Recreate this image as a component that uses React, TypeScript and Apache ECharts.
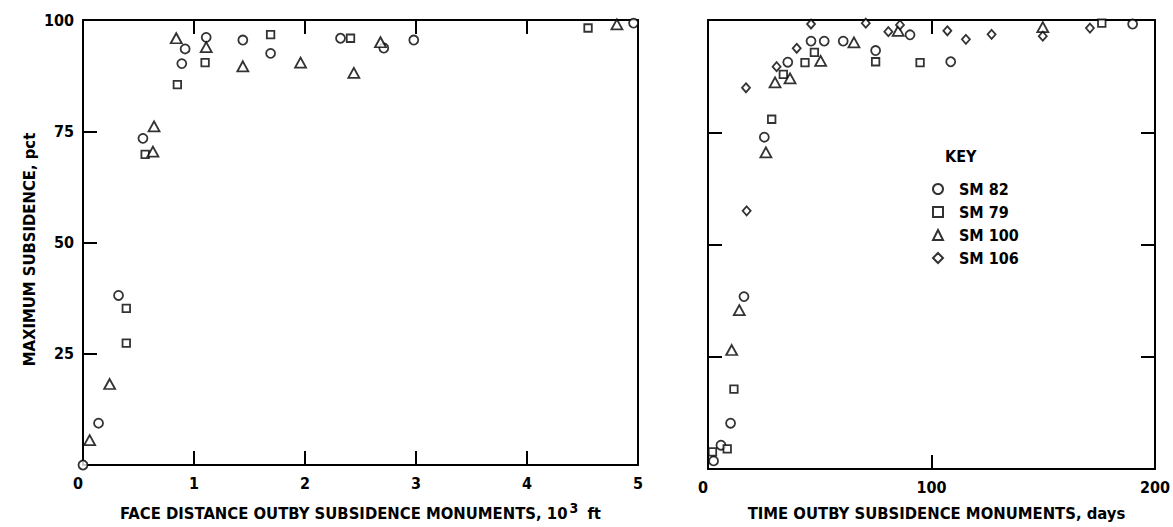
import React, { useEffect, useRef } from "react";
import * as echarts from "echarts";

const FONT = "'DejaVu Sans Condensed','Liberation Sans Narrow','DejaVu Sans',sans-serif";

// Left panel: face distance (10^3 ft) vs maximum subsidence (pct)
const leftSM82: [number, number][] = [
  [0, 0], [0.14, 9.4], [0.32, 38.1], [0.54, 73.4], [0.89, 90.2], [0.92, 93.5],
  [1.11, 96.1], [1.44, 95.5], [1.69, 92.5], [2.32, 95.9], [2.71, 93.7], [2.98, 95.5], [4.96, 99.3],
];
const leftSM79: [number, number][] = [
  [0.39, 35.2], [0.39, 27.4], [0.56, 69.8], [0.85, 85.5], [1.1, 90.4], [1.69, 96.7], [2.41, 95.9], [4.55, 98.2],
];
const leftSM100: [number, number][] = [
  [0.06, 5.6], [0.24, 18.2], [0.63, 70.4], [0.64, 76.1], [0.84, 95.9], [1.11, 93.9],
  [1.44, 89.6], [1.96, 90.4], [2.44, 88.1], [2.68, 95.0], [4.81, 99.0],
];

// Right panel: time (days) vs maximum subsidence (pct)
const rightSM82: [number, number][] = [
  [2.5, 1.8], [5.8, 5.3], [10.1, 10.2], [16.1, 38.4], [25.2, 73.9], [35.7, 90.6], [46.1, 95.3],
  [52.0, 95.3], [60.5, 95.3], [75.0, 93.2], [90.4, 96.7], [108.6, 90.7], [190.0, 99.1],
];
const rightSM79: [number, number][] = [
  [2.0, 3.8], [8.6, 4.5], [11.6, 17.8], [28.5, 77.9], [33.7, 87.9], [43.4, 90.5], [47.6, 92.8],
  [75.0, 90.7], [94.9, 90.5], [176.2, 99.3],
];
const rightSM100: [number, number][] = [
  [10.6, 26.5], [14.0, 35.4], [25.9, 70.5], [30.0, 86.1], [36.7, 87.0], [50.4, 90.9],
  [65.3, 95.0], [85.1, 97.6], [149.8, 98.4],
];
const rightSM106: [number, number][] = [
  [17.0, 84.9], [17.3, 57.5], [30.7, 89.6], [39.7, 93.7], [46.1, 99.1], [70.6, 99.3], [80.7, 97.4],
  [85.9, 98.9], [107.1, 97.6], [115.4, 95.7], [126.9, 96.8], [149.8, 96.4], [170.9, 98.2],
];

const seriesNames = ["SM 82", "SM 79", "SM 100", "SM 106"];
const leftXTicks = { min: 0, max: 5, interval: 1 };
const rightXTicks = { min: 0, max: 200, interval: 100 };
const yTicks = { min: 0, max: 100, interval: 25 };

const symbols: Record<string, { symbol: string; size: any }> = {
  "SM 82": { symbol: "circle", size: 9 },
  "SM 79": { symbol: "rect", size: 7.5 },
  "SM 100": { symbol: "triangle", size: [11, 10] },
  "SM 106": { symbol: "diamond", size: [8, 9] },
};

export default function App() {
  const ref = useRef<HTMLDivElement>(null);
  useEffect(() => {
    if (!ref.current) return;
    const chart = echarts.init(ref.current, null, { renderer: "svg" });
    const line = () => ({ show: true, onZero: false, lineStyle: { color: "#000", width: 2 } });
    const tick = () => ({ show: true, inside: true, length: 14, lineStyle: { color: "#000", width: 2 } });
    const noTick = () => ({ show: false });
    const label = () => ({ color: "#000", fontSize: 16, fontWeight: "bold", fontFamily: FONT });
    const mk = (name: string, data: [number, number][], xi: number, yi: number) => ({
      type: "scatter",
      name,
      data,
      xAxisIndex: xi,
      yAxisIndex: yi,
      symbol: symbols[name].symbol,
      symbolSize: symbols[name].size,
      itemStyle: { color: "#fff", borderColor: "#000", borderWidth: 1.8 },
      emphasis: { disabled: true },
    });
    chart.setOption({
      animation: false,
      grid: [
        { left: 83, top: 20, width: 555, height: 449 },
        { left: 708, top: 20, width: 447, height: 449 },
      ],
      xAxis: [
        {
          gridIndex: 0, type: "value", position: "bottom", ...leftXTicks,
          axisLine: line(), axisTick: tick(), splitLine: { show: false },
          axisLabel: { ...label(), margin: 10, alignMinLabel: "right" },
          name: "{t|FACE DISTANCE OUTBY SUBSIDENCE MONUMENTS, 10}{s|3}{t| ft}",
          nameLocation: "middle", nameGap: 34,
          nameTextStyle: {
            rich: {
              t: { ...label(), fontSize: 16.5, padding: [6, 0, 0, 0] },
              s: { ...label(), fontSize: 14, padding: [0, 4, 6, 2] },
            },
          },
        },
        {
          gridIndex: 0, type: "value", position: "top", ...leftXTicks,
          axisLine: line(), axisTick: tick(), splitLine: { show: false }, axisLabel: { show: false },
        },
        {
          gridIndex: 1, type: "value", position: "bottom", ...rightXTicks,
          axisLine: line(), axisTick: tick(), splitLine: { show: false },
          axisLabel: { ...label(), margin: 10, alignMinLabel: "right" },
          name: "TIME OUTBY SUBSIDENCE MONUMENTS, days",
          nameLocation: "middle", nameGap: 36,
          nameTextStyle: { ...label(), fontSize: 16.5, padding: [0, 0, 0, 10] },
        },
        {
          gridIndex: 1, type: "value", position: "top", ...rightXTicks,
          axisLine: line(), axisTick: tick(), splitLine: { show: false }, axisLabel: { show: false },
        },
      ],
      yAxis: [
        {
          gridIndex: 0, type: "value", position: "left", ...yTicks,
          axisLine: line(), axisTick: tick(), splitLine: { show: false },
          axisLabel: { ...label(), margin: 9, formatter: (v: number) => (v === 0 ? "" : String(v)) },
          name: "MAXIMUM SUBSIDENCE, pct", nameLocation: "middle", nameGap: 45, nameRotate: 90,
          nameTextStyle: { ...label(), fontSize: 16.5, padding: [0, 14, 0, 0] },
        },
        {
          gridIndex: 0, type: "value", position: "right", ...yTicks,
          axisLine: line(), axisTick: noTick(), splitLine: { show: false }, axisLabel: { show: false },
        },
        {
          gridIndex: 1, type: "value", position: "left", ...yTicks,
          axisLine: line(), axisTick: tick(), splitLine: { show: false }, axisLabel: { show: false },
        },
        {
          gridIndex: 1, type: "value", position: "right", ...yTicks,
          axisLine: line(), axisTick: tick(), splitLine: { show: false }, axisLabel: { show: false },
        },
      ],
      legend: {
        data: seriesNames,
        orient: "vertical",
        left: 927,
        top: 176,
        itemWidth: 10,
        itemHeight: 10,
        itemGap: 7,
        textStyle: { ...label(), fontSize: 16, padding: [0, 0, 0, 11] },
        selectedMode: false,
      },
      graphic: [
        {
          type: "text", left: 945, top: 148,
          style: { text: "KEY", fill: "#000", font: `bold 16px ${FONT}` },
        },
      ],
      series: [
        mk("SM 82", leftSM82, 0, 0),
        mk("SM 79", leftSM79, 0, 0),
        mk("SM 100", leftSM100, 0, 0),
        mk("SM 82", rightSM82, 2, 2),
        mk("SM 79", rightSM79, 2, 2),
        mk("SM 100", rightSM100, 2, 2),
        mk("SM 106", rightSM106, 2, 2),
      ],
    });
    return () => chart.dispose();
  }, []);
  return (
    <div
      ref={ref}
      style={{ position: "fixed", left: 0, top: 0, width: 1173, height: 527, background: "#fff" }}
    />
  );
}
